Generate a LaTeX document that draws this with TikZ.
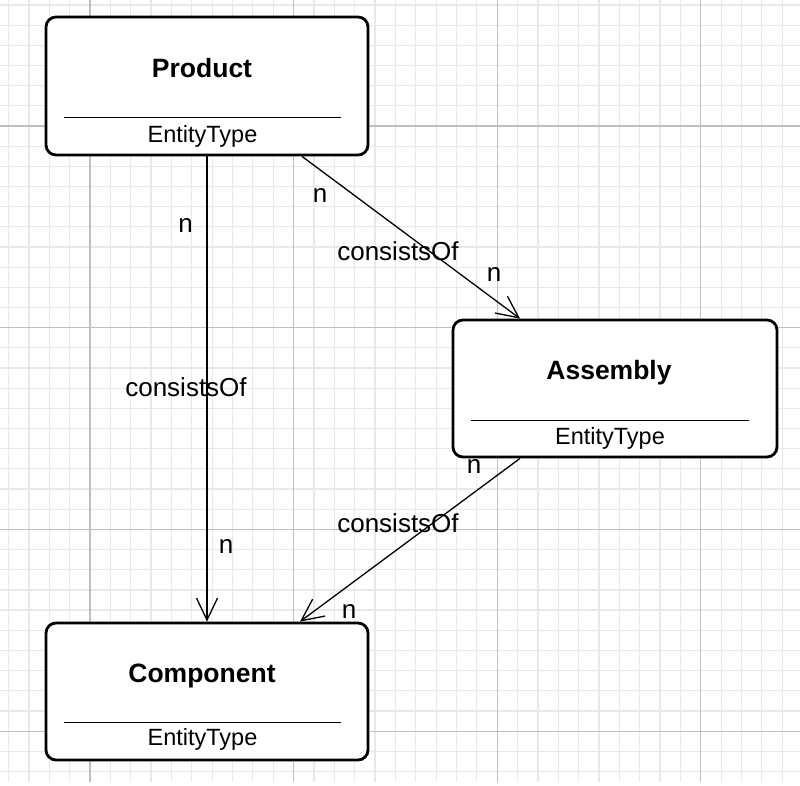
\documentclass[tikz,border=0pt]{standalone}
\usepackage{fontspec}
\setmainfont{Liberation Sans}
\usetikzlibrary{positioning,calc,arrows.meta}
\tikzset{
	gridminor/.style={draw=black!9, line width=1.2pt},
	gridmajor/.style={draw=black!25, line width=1.2pt},
	entity/.style={draw, line width=2.8pt, rounded corners=10pt, fill=white, minimum width=322pt, minimum height=138pt, inner sep=0pt},
	ename/.style={font=\fontsize{26.5}{30}\selectfont\bfseries, anchor=base, inner sep=0pt},
	etype/.style={font=\fontsize{23.5}{28}\selectfont, anchor=base, inner sep=0pt},
	sep/.style={line width=1.5pt},
	rel/.style={->, line width=1.3pt, >={Straight Barb[length=22pt,width=21pt]}},
	lbl/.style={font=\fontsize{26}{30}\selectfont, inner sep=0pt}
}

\begin{document}
\begin{tikzpicture}[x=1pt, y=-1pt]
	\fill[white] (0,0) rectangle (800,785);
	\useasboundingbox (0,0) rectangle (800,785);

	\foreach \i in {0,...,39} {
		\draw[gridminor] ({8.56+20.36*\i},0) -- ({8.56+20.36*\i},782);
		\draw[gridminor] (0,{4.98+20.17*\i}) -- (800,{4.98+20.17*\i});
	}
	\foreach \i in {0,...,3} {
		\draw[gridmajor] ({90+203.6*\i},0) -- ({90+203.6*\i},782);
		\draw[gridmajor] (0,{126+201.7*\i}) -- (800,{126+201.7*\i});
	}

	\node[entity] (product) at (207,86) {};
	\node[entity, minimum width=324pt, minimum height=137pt] (assembly) at (615,388.5) {};
	\node[entity, minimum height=137pt] (component) at (207,691.5) {};

	\node[ename] (product name) at ($(product.north)+(-5,62)$) {Product};
	\node[etype] (product type) at ($(product.north)+(-4.5,127)$) {EntityType};
	\draw[sep] ($(product.north west)+(19,102)$) -- ($(product.north east)+(-28,102)$);

	\node[ename] (assembly name) at ($(assembly.north)+(-6,61)$) {Assembly};
	\node[etype] (assembly type) at ($(assembly.north)+(-5,125.5)$) {EntityType};
	\draw[sep] ($(assembly.north west)+(19,102)$) -- ($(assembly.north east)+(-29,102)$);

	\node[ename] (component name) at ($(component.north)+(-5,60.5)$) {Component};
	\node[etype] (component type) at ($(component.north)+(-4.5,124)$) {EntityType};
	\draw[sep] ($(component.north west)+(19,101)$) -- ($(component.north east)+(-28,101)$);

	\draw[rel] (product.south) -- (component.north);
	\draw[rel] ([xshift=95pt]product.south) -- ([xshift=-95pt]assembly.north);
	\draw[rel] ([xshift=-95pt]assembly.south) -- ([xshift=93pt]component.north);

	\node[lbl] (pc from) at (185.5,225) {n};
	\node[lbl] (pc rel) at (186,387) {consistsOf};
	\node[lbl] (pc to) at (226,546) {n};

	\node[lbl] (pa from) at (320,195) {n};
	\node[lbl] (pa rel) at (398,251) {consistsOf};
	\node[lbl] (pa to) at (494,274) {n};

	\node[lbl] (ac from) at (474,466) {n};
	\node[lbl] (ac rel) at (398,523) {consistsOf};
	\node[lbl] (ac to) at (349,611) {n};
\end{tikzpicture}
\end{document}
